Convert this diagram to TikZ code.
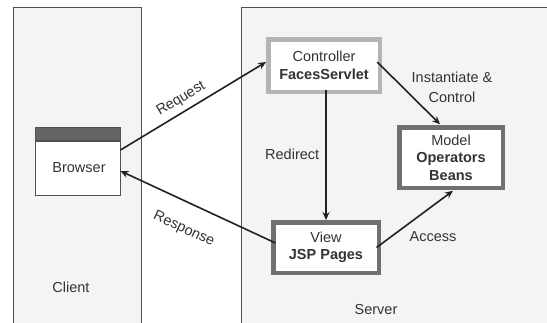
\documentclass[tikz,border=0pt]{standalone}
\usepackage{fontspec}
\setmainfont{Liberation Sans}
\usetikzlibrary{arrows.meta}
\definecolor{panelfill}{HTML}{F4F4F4}
\definecolor{panelline}{HTML}{505050}
\definecolor{txt}{HTML}{333333}
\definecolor{lightframe}{HTML}{B4B4B4}
\definecolor{darkframe}{HTML}{707070}
\definecolor{arrowcol}{HTML}{222222}
\tikzset{
  panel/.style={draw=panelline, line width=0.9pt, fill=panelfill},
  compbox/.style={fill=white, line width=4.5pt, inner sep=0pt, outer sep=0pt, align=center, text=txt,
    font=\fontsize{14.5}{17.5}\selectfont},
  conn/.style={draw=arrowcol, line width=1.6pt, -{Stealth[length=8pt,width=7pt]}},
  lbl/.style={text=txt, font=\fontsize{14.5}{20}\selectfont, align=center, inner sep=0pt},
}
\begin{document}
\begin{tikzpicture}[x=1pt,y=-1pt]
\useasboundingbox (0,0) rectangle (547,322);
\fill[white] (0,0) rectangle (547,322);
% panels
\path[panel] (13,7) rectangle (141,335);
\path[panel] (241,7) rectangle (560,335);
\node[lbl] (client) at (71,287) {Client};
\node[lbl] (server) at (376,310) {Server};
% browser
\node[draw=panelline, line width=1.3pt, fill=white, minimum width=85pt, minimum height=68pt, inner sep=0pt, outer sep=0pt] (browser) at (78,161.5) {};
\fill[darkframe!90!black, draw=panelline, line width=1.3pt] (35.5,127.5) rectangle (120.5,141);
\node[lbl] (browsertxt) at (79,168) {Browser};
% components
\node[compbox, draw=lightframe, minimum width=111.5pt, minimum height=52.5pt] (controller) at (324,65.5)
  {Controller\\\textbf{FacesServlet}};
\node[compbox, draw=darkframe, minimum width=103.5pt, minimum height=60.5pt] (model) at (451,157.5)
  {Model\\\textbf{Operators}\\\textbf{Beans}};
\node[compbox, draw=darkframe, minimum width=105.5pt, minimum height=50.5pt] (view) at (326,247.5)
  {View\\\textbf{JSP Pages}};
% connectors
\draw[conn] ([yshift=11.5pt]browser.east) -- node[lbl, sloped, above=5pt, pos=0.46] (req) {Request} ([yshift=3.5pt,xshift=-2.2pt]controller.west);
\draw[conn] ([yshift=4.5pt,xshift=2.2pt]view.west) -- node[lbl, sloped, below=19pt, pos=0.52] (resp) {Response} ([yshift=-9.5pt]browser.east);
\draw[conn] ([yshift=2.2pt]view.north |- controller.south) -- node[lbl, left=6pt] (redir) {Redirect} ([yshift=2.2pt]view.north);
\draw[conn] ([yshift=3.5pt,xshift=-2.5pt]controller.east) -- ([xshift=-11pt,yshift=3pt]model.north);
\draw[conn] ([xshift=-2.2pt]view.east) -- ([xshift=2pt,yshift=-3pt]model.south);
\node[lbl] (inst) at (452,87) {Instantiate \&\\Control};
\node[lbl] (acc) at (433,237) {Access};
\end{tikzpicture}
\end{document}
